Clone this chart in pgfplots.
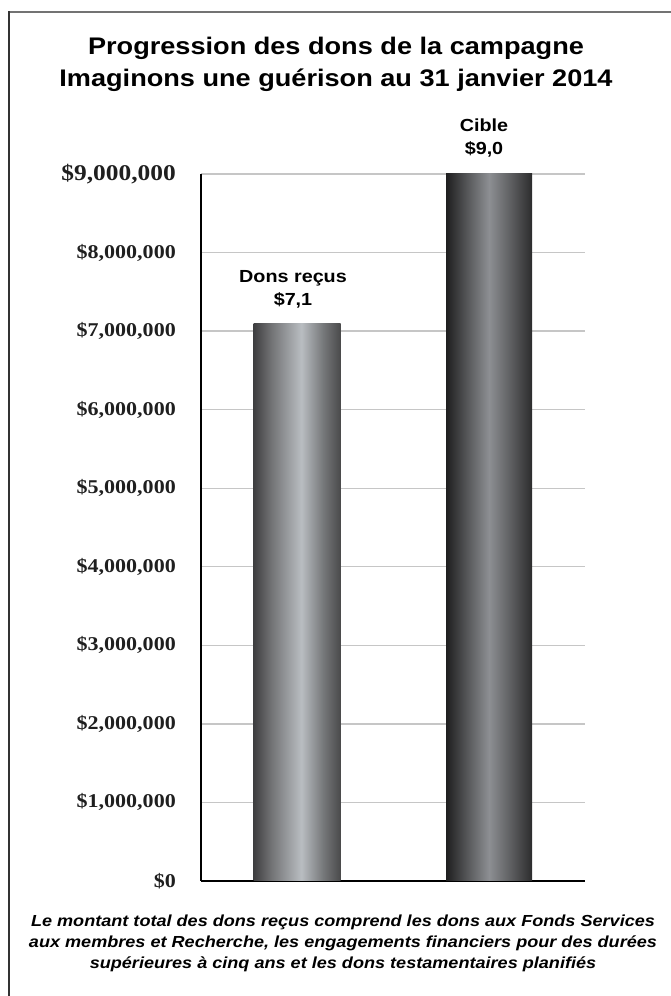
\documentclass[border=0pt]{standalone}
\usepackage{fontspec}
\setmainfont{Liberation Sans}[FakeStretch=1.13]
\newfontfamily\tickfont{Liberation Serif}[FakeStretch=1.13]
\usepackage{pgfplots}
\pgfplotsset{compat=1.18}
\definecolor{gridgray}{HTML}{C6C6C6}
\definecolor{aA}{HTML}{3E3E40}
\definecolor{aB}{HTML}{717274}
\definecolor{aC}{HTML}{B9BDC1}
\definecolor{aD}{HTML}{76787A}
\definecolor{aE}{HTML}{4A4A4B}
\definecolor{bA}{HTML}{1E1E1F}
\definecolor{bB}{HTML}{57585A}
\definecolor{bC}{HTML}{8D8F93}
\definecolor{bD}{HTML}{5E5F61}
\definecolor{bE}{HTML}{2C2C2D}
\pgfdeclarehorizontalshading{shadeA}{100bp}{color(0bp)=(aA); color(25bp)=(aA); color(35bp)=(aB); color(52.5bp)=(aC); color(65bp)=(aD); color(75bp)=(aE); color(100bp)=(aE)}
\pgfdeclarehorizontalshading{shadeB}{100bp}{color(0bp)=(bA); color(25bp)=(bA); color(37.5bp)=(bB); color(50bp)=(bC); color(62.5bp)=(bD); color(75bp)=(bE); color(100bp)=(bE)}
\begin{document}
\begin{tikzpicture}
\path[use as bounding box] (0,0) rectangle (671bp,996bp);
\draw[line width=1.5bp, black!55] (9bp,984bp) -- (671bp,984bp);
\draw[line width=1.5bp, black!80] (9bp,984.75bp) -- (9bp,0);
\node[anchor=base, font=\bfseries\fontsize{24bp}{28bp}\selectfont] at (336bp,941bp) {Progression des dons de la campagne};
\node[anchor=base, font=\bfseries\fontsize{24bp}{28bp}\selectfont] at (336bp,909bp) {Imaginons une guérison au 31 janvier 2014};
\begin{axis}[
  at={(201bp,115bp)}, anchor=south west,
  scale only axis, width=384bp, height=707bp,
  xmin=-0.5, xmax=1.5, ymin=0, ymax=9000000,
  clip=false,
  axis x line*=bottom, axis y line*=left,
  axis line style={black, line width=1.6bp, -},
  xtick=\empty,
  ytick={0,1000000,2000000,3000000,4000000,5000000,6000000,7000000,8000000,9000000},
  yticklabels={{\$0},{\$1,000,000},{\$2,000,000},{\$3,000,000},{\$4,000,000},{\$5,000,000},{\$6,000,000},{\$7,000,000},{\$8,000,000},{\fontsize{22.5bp}{26bp}\selectfont\$9,000,000}},
  scaled y ticks=false,
  yticklabel style={font=\tickfont\bfseries\fontsize{19.5bp}{22bp}\selectfont, anchor=east, inner sep=0pt, xshift=-25bp, text=black!88},
  ymajorgrids, major grid style={gridgray, line width=1.3bp},
  major tick length=0pt,
]
\addplot[ybar, bar width=87bp, bar shift=0pt, draw=none, shade, shading=shadeA] coordinates {(0,7100000)};
\addplot[ybar, bar width=86bp, bar shift=0pt, draw=none, shade, shading=shadeB] coordinates {(1,9000000)};
\node[anchor=base, font=\bfseries\fontsize{17.5bp}{20bp}\selectfont, xshift=-4bp, yshift=41bp] at (axis cs:0,7100000) {Dons reçus};
\node[anchor=base, font=\bfseries\fontsize{17.5bp}{20bp}\selectfont, xshift=-4bp, yshift=18bp] at (axis cs:0,7100000) {\$7,1};
\node[anchor=base, font=\bfseries\fontsize{17.5bp}{20bp}\selectfont, xshift=-5bp, yshift=42bp] at (axis cs:1,9000000) {Cible};
\node[anchor=base, font=\bfseries\fontsize{17.5bp}{20bp}\selectfont, xshift=-5bp, yshift=19bp] at (axis cs:1,9000000) {\$9,0};
\end{axis}
\node[anchor=base, font=\bfseries\itshape\fontsize{16bp}{20bp}\selectfont] at (343bp,69bp) {Le montant total des dons reçus comprend les dons aux Fonds Services};
\node[anchor=base, font=\bfseries\itshape\fontsize{16bp}{20bp}\selectfont] at (343bp,48bp) {aux membres et Recherche, les engagements financiers pour des durées};
\node[anchor=base, font=\bfseries\itshape\fontsize{16bp}{20bp}\selectfont] at (343bp,28bp) {supérieures à cinq ans et les dons testamentaires planifiés};
\end{tikzpicture}
\end{document}
